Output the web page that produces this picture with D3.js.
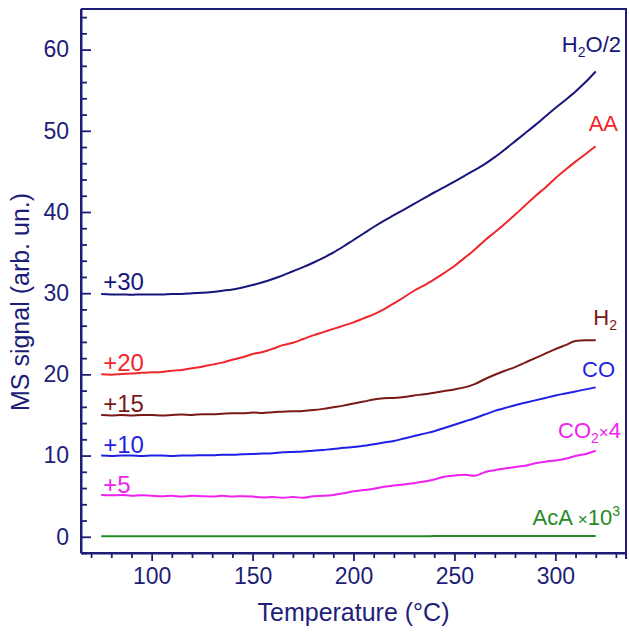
<!DOCTYPE html>
<html>
<head>
<meta charset="utf-8">
<script src="https://cdn.jsdelivr.net/npm/d3@7"></script>
<style>
  html, body { margin: 0; padding: 0; background: #fff; }
  svg { display: block; font-family: "Liberation Sans", Arial, Helvetica, sans-serif; }
</style>
</head>
<body>
<svg id="chart" width="629" height="632"></svg>
<script>
// ---------- data ----------
const temperature = [75,80,85,90,95,100,105,110,115,120,125,130,135,140,145,150,155,160,165,170,
  175,180,185,190,195,200,205,210,215,220,225,230,235,240,245,250,255,260,265,270,
  275,280,285,290,295,300,305,310,315,320];

// H2O/2 (+30)
const h2o = [29.9,29.85,29.85,29.8,29.85,29.85,29.85,29.9,29.9,30.0,30.05,30.15,30.3,30.45,30.7,31.0,31.35,31.75,32.2,32.7,
  33.2,33.75,34.35,35.0,35.75,36.55,37.35,38.15,38.9,39.6,40.3,41.0,41.7,42.4,43.05,43.75,44.45,45.15,45.9,46.75,
  47.7,48.7,49.7,50.7,51.75,52.8,53.8,54.85,56.0,57.3];
// AA (+20)
const aa = [20.0,19.95,20.05,20.1,20.2,20.25,20.3,20.45,20.55,20.75,20.95,21.2,21.45,21.8,22.1,22.5,22.75,23.15,23.6,23.9,
  24.35,24.8,25.2,25.6,26.0,26.4,26.9,27.4,28.0,28.75,29.5,30.3,30.95,31.7,32.5,33.35,34.35,35.35,36.5,37.5,
  38.55,39.65,40.8,41.95,43.0,44.15,45.2,46.2,47.15,48.1];
// H2 (+15)
const h2 = [15.0,14.95,15.0,14.95,15.0,15.0,14.95,15.0,15.05,15.0,15.1,15.1,15.15,15.2,15.2,15.3,15.25,15.35,15.4,15.45,
  15.5,15.6,15.75,15.95,16.15,16.4,16.65,16.9,17.05,17.1,17.2,17.4,17.55,17.75,17.95,18.15,18.4,18.8,19.4,19.95,
  20.45,20.9,21.45,22.0,22.55,23.1,23.6,24.1,24.2,24.2];
// CO (+10)
const co = [10.0,9.95,10.0,10.0,9.95,10.0,10.0,9.95,10.0,10.0,10.05,10.05,10.1,10.1,10.15,10.2,10.25,10.3,10.4,10.45,
  10.5,10.6,10.7,10.8,10.95,11.05,11.2,11.4,11.6,11.8,12.1,12.4,12.7,13.0,13.4,13.8,14.2,14.6,15.05,15.5,
  15.85,16.2,16.5,16.8,17.1,17.4,17.65,17.9,18.15,18.4];
// CO2 x4 (+5)
const co2 = [5.15,5.1,5.15,5.05,5.1,5.05,5.0,5.05,4.95,5.05,5.0,4.95,5.05,4.95,5.0,4.95,4.85,4.9,4.8,4.9,
  4.8,5.0,5.05,5.15,5.35,5.6,5.75,5.9,6.15,6.3,6.45,6.6,6.8,7.05,7.4,7.55,7.65,7.5,7.95,8.2,
  8.4,8.6,8.75,9.05,9.25,9.4,9.6,9.95,10.2,10.6];
// AcA x10^3
const aca = [0.05,0.05,0.05,0.05,0.05,0.05,0.05,0.05,0.05,0.05,0.05,0.05,0.05,0.05,0.05,0.05,0.05,0.05,0.05,0.05,
  0.05,0.05,0.05,0.05,0.05,0.05,0.05,0.05,0.05,0.05,0.05,0.05,0.05,0.1,0.1,0.1,0.1,0.1,0.1,0.1,
  0.1,0.1,0.1,0.1,0.1,0.1,0.1,0.1,0.1,0.1];

const xTicks = [100, 150, 200, 250, 300];
const yTicks = [0, 10, 20, 30, 40, 50, 60];
const offsetLabels = ["+30", "+20", "+15", "+10", "+5"];
const offsetValues = [30, 20, 15, 10, 5];

// ---------- layout ----------
const svg = d3.select("#chart");
const margin = { left: 81, right: 3, top: 9, bottom: 79 };
const W = 629, H = 632;
const x = d3.scaleLinear().domain([65, 335]).range([margin.left, W - margin.right]);
const y = d3.scaleLinear().domain([-2, 65]).range([H - margin.bottom, margin.top]);

const axisColor = "#1e1e78";
const colors = {
  h2o: "#15157a",
  aa: "#f0262a",
  h2: "#7a1818",
  co: "#1f1fe6",
  co2: "#ee22ee",
  aca: "#258a25"
};

// ---------- curves ----------
const series = [
  { key: "aca", values: aca },
  { key: "co2", values: co2 },
  { key: "co", values: co },
  { key: "h2", values: h2 },
  { key: "aa", values: aa },
  { key: "h2o", values: h2o }
];
const line = d3.line().x((d) => x(d[0])).y((d) => y(d[1])).curve(d3.curveMonotoneX);
svg.append("g").selectAll("path").data(series).join("path")
  .attr("d", (s) => line(temperature.map((t, i) => [t, s.values[i]])))
  .attr("fill", "none")
  .attr("stroke", (s) => colors[s.key])
  .attr("stroke-width", 2)
  .attr("stroke-linejoin", "round");

// ---------- axes ----------
const x0 = x.range()[0], x1 = x.range()[1], y0 = y.range()[0], y1 = y.range()[1];

// frame (top and right)
svg.append("path")
  .attr("d", `M${x0},${y1}H${x1}V${y0 + 6}`)
  .attr("fill", "none").attr("stroke", axisColor).attr("stroke-width", 2);

const xMinor = d3.range(70, 331, 10).filter((v) => !xTicks.includes(v));
const yMinor = d3.range(-2, 65, 2).filter((v) => !yTicks.includes(v));

const gx = svg.append("g").attr("transform", `translate(0,${y0})`);
gx.call(d3.axisBottom(x).tickValues(xTicks).tickSize(8).tickSizeOuter(0).tickPadding(6));
gx.append("g").call(d3.axisBottom(x).tickValues(xMinor).tickSize(5).tickSizeOuter(0).tickFormat(""));

const gy = svg.append("g").attr("transform", `translate(${x0},0)`);
gy.call(d3.axisLeft(y).tickValues(yTicks).tickSize(-10).tickSizeOuter(0).tickPadding(12));
gy.append("g").call(d3.axisLeft(y).tickValues(yMinor).tickSize(-6).tickSizeOuter(0).tickFormat(""));

svg.selectAll(".domain").attr("stroke", axisColor).attr("stroke-width", 2);
svg.selectAll(".tick line").attr("stroke", axisColor).attr("stroke-width", 1.8);
svg.selectAll(".tick text").attr("fill", axisColor).attr("font-size", 23)
  .attr("font-family", "'Liberation Sans', Arial, sans-serif");
gx.selectAll(".tick text").attr("dy", "0.75em");
gx.select(".domain").attr("d", `M${x0},0H${x1}`);
gy.select(".domain").attr("d", `M0,${y1}V${y0}`);

// axis titles
svg.append("text")
  .attr("x", (x0 + x1) / 2).attr("y", 621)
  .attr("text-anchor", "middle").attr("fill", axisColor).attr("font-size", 25)
  .text("Temperature (°C)");
svg.append("text")
  .attr("transform", `translate(29,302) rotate(-90)`)
  .attr("text-anchor", "middle").attr("fill", axisColor).attr("font-size", 25)
  .text("MS signal (arb. un.)");

// ---------- offset labels (left) ----------
const offsetColors = [colors.h2o, colors.aa, colors.h2, colors.co, colors.co2];
svg.append("g").selectAll("text").data(offsetLabels).join("text")
  .attr("x", x(76))
  .attr("y", (d, i) => y(offsetValues[i]) - 3)
  .attr("fill", (d, i) => offsetColors[i])
  .attr("font-size", 24)
  .text((d) => d);

// ---------- series labels (right) ----------
const fs = 22;
function label(parts, color, xr, yb) {
  const t = svg.append("text").attr("x", xr).attr("y", yb).attr("text-anchor", "end")
    .attr("fill", color).attr("font-size", fs);
  parts.forEach((p) => {
    const ts = t.append("tspan").text(p.t);
    if (p.sub) ts.attr("font-size", 14).attr("dy", 5);
    if (p.sup) ts.attr("font-size", 14).attr("dy", -9);
    if (p.reset) ts.attr("dy", p.reset);
    if (p.small) ts.attr("font-size", 17);
  });
}
label([{ t: "H" }, { t: "2", sub: true }, { t: "O/2", reset: -5 }], colors.h2o, 621, 52);
label([{ t: "AA" }], colors.aa, 618, 131);
label([{ t: "H" }, { t: "2", sub: true }], colors.h2, 617, 325);
label([{ t: "CO" }], colors.co, 615, 377);
label([{ t: "CO" }, { t: "2", sub: true }, { t: "×", reset: -5, small: true }, { t: "4" }], colors.co2, 621, 438);
label([{ t: "AcA " }, { t: "×", small: true }, { t: "10" }, { t: "3", sup: true }], colors.aca, 620, 525);
</script>
</body>
</html>
